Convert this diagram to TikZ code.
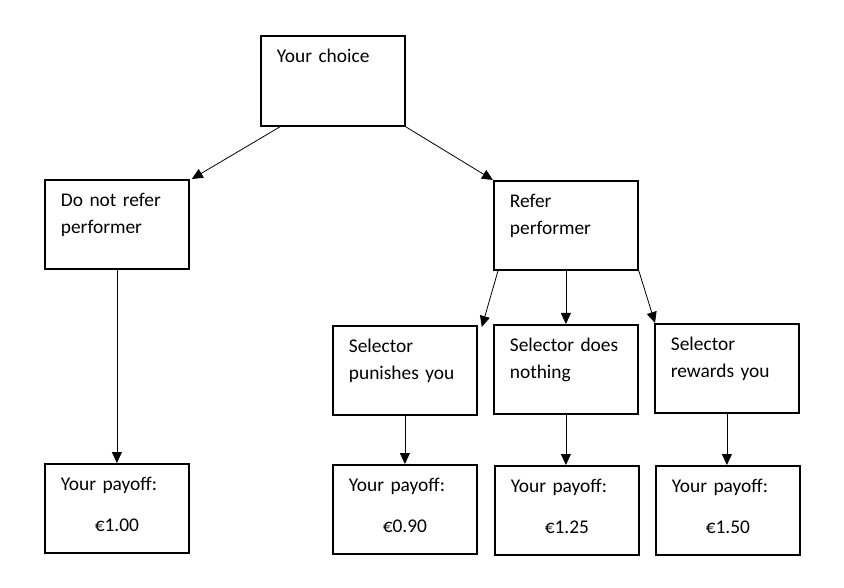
\documentclass[tikz,border=0pt]{standalone}
\usepackage{fontspec}
\setmainfont{Carlito}
\usetikzlibrary{arrows.meta}

\begin{document}
\begin{tikzpicture}[x=1pt, y=-1pt]
    \tikzset{
        box/.style={
            draw,
            line width=1.8pt,
            anchor=north west,
            text width=112pt,
            inner xsep=16pt,
            inner ysep=0pt,
            text height=27pt,
            text depth=62pt,
            align=left,
            font=\fontsize{19.4}{27}\selectfont,
        },
        payoff/.style={
            box,
            align=center,
        },
        arr/.style={
            line width=0.8pt,
            -{Triangle[length=11pt, width=10pt]},
        },
    }

    \useasboundingbox (0,0) rectangle (844,588);

    % Boxes
    \node[box, text depth=63pt] (choice) at (260,35) {Your choice};
    \node[box] (norefer) at (44,179) {Do not refer\\performer};
    \node[box] (refer) at (493,180) {Refer\\performer};
    \node[box] (punish) at (332,325) {Selector\\punishes you};
    \node[box] (nothing) at (493,324) {Selector does\\nothing};
    \node[box] (reward) at (654,323) {Selector\\rewards you};

    % Payoffs
    \node[payoff] (pay1) at (44,463) {\makebox[\linewidth][l]{Your payoff:}\\[14pt]€1.00};
    \node[payoff] (pay2) at (332,464) {\makebox[\linewidth][l]{Your payoff:}\\[14pt]€0.90};
    \node[payoff] (pay3) at (494,465) {\makebox[\linewidth][l]{Your payoff:}\\[14pt]€1.25};
    \node[payoff] (pay4) at (655,465) {\makebox[\linewidth][l]{Your payoff:}\\[14pt]€1.50};

    % Arrows
    \draw[arr] ([xshift=20pt]choice.south west) -- ([xshift=2pt]norefer.north east);
    \draw[arr] (choice.south east) -- (refer.north west);
    \draw[arr] ([xshift=5pt]refer.south west) -- ([xshift=4pt, yshift=-2pt]punish.north east);
    \draw[arr] (refer.south) -- (refer.south |- nothing.north);
    \draw[arr] (refer.south east) -- ([xshift=1pt]reward.north west);
    \draw[arr] (norefer.south) -- (norefer.south |- pay1.north);
    \draw[arr] (punish.south) -- (punish.south |- pay2.north);
    \draw[arr] (nothing.south) -- (nothing.south |- pay3.north);
    \draw[arr] (reward.south) -- (reward.south |- pay4.north);

\end{tikzpicture}
\end{document}
